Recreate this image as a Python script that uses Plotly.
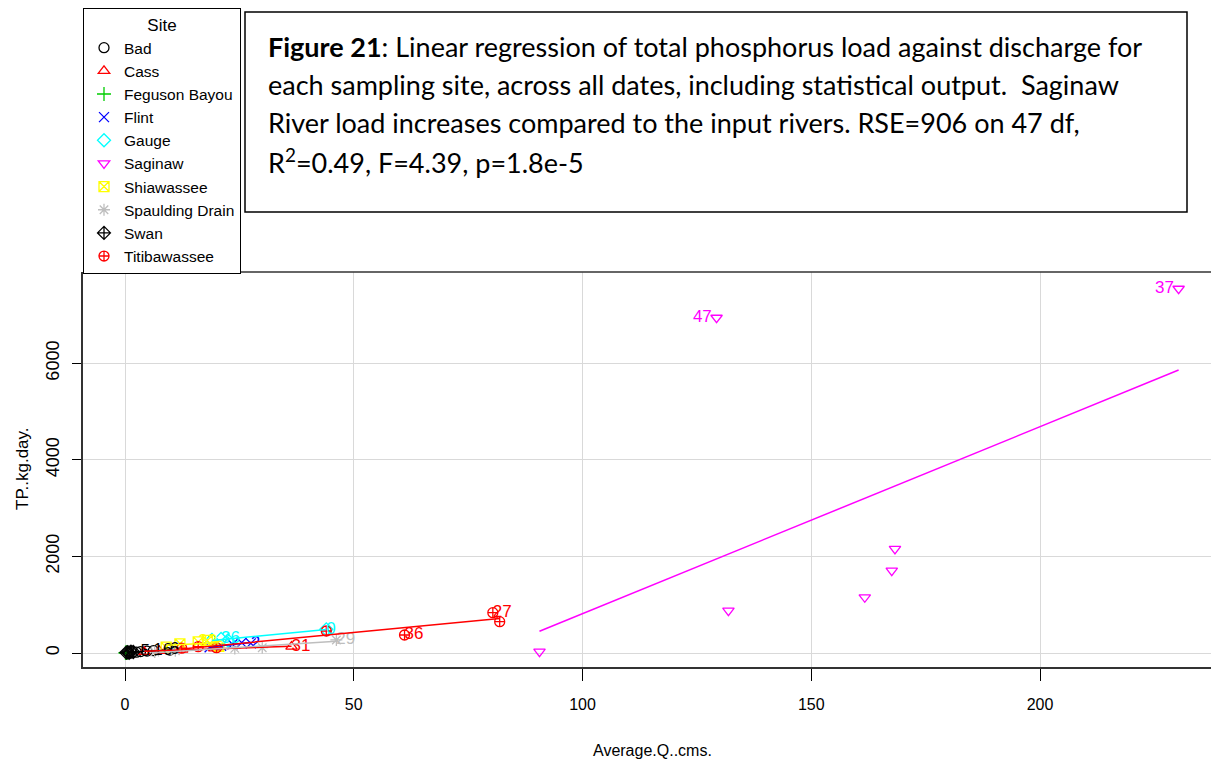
import numpy as np
import plotly.graph_objects as go

# ---------------- data ----------------
sites = ["Bad", "Cass", "Feguson Bayou", "Flint", "Gauge", "Saginaw",
         "Shiawassee", "Spaulding Drain", "Swan", "Titibawassee"]

bad_q = [2.5, 3.4, 4.8, 6.2, 9.8]
bad_tp = [18, 30, 40, 48, 60]
bad_lab = ["", "5", "", "16", "6"]

cass_q = [4.2, 7.5, 12.5, 19.5, 36.4]
cass_tp = [25, 45, 70, 95, 131]
cass_lab = ["", "", "", "", "31"]

feg_q = [0.1, 0.15, 0.25, 0.35, 0.5]
feg_tp = [3, 6, 4, 10, 8]
feg_lab = ["", "", "", "", ""]

flint_q = [18.5, 21.0, 23.5, 25.5, 27.5]
flint_tp = [120, 150, 180, 215, 200]
flint_lab = ["", "", "", "", "2"]

gauge_q = [19.0, 21.0, 22.5, 44.0]
gauge_tp = [270, 290, 260, 490]
gauge_lab = ["", "36", "", "0"]

sag_q = [90.6, 131.9, 161.7, 167.6, 168.3, 129.3, 230.3]
sag_tp = [27, 877, 1154, 1706, 2155, 6943, 7544]
sag_lab = ["", "", "", "", "", "47", "37"]

shia_q = [9.0, 12.0, 16.0, 18.0, 20.5]
shia_tp = [120, 190, 230, 260, 140]
shia_lab = ["", "", "32", "", ""]

spau_q = [6.5, 11.0, 24.0, 30.0, 46.2]
spau_tp = [20, 45, 95, 110, 270]
spau_lab = ["", "", "", "", "29"]

swan_q = [0.3, 0.6, 0.9, 1.3, 1.8]
swan_tp = [8, 15, 5, 25, 20]
swan_lab = ["", "", "", "", ""]

titi_q = [12.4, 16.0, 20.0, 44.0, 61.1, 80.4, 81.9]
titi_tp = [100, 130, 110, 456, 373, 835, 649]
titi_lab = ["", "", "", "", "36", "27", ""]

site_q = [bad_q, cass_q, feg_q, flint_q, gauge_q, sag_q, shia_q, spau_q, swan_q, titi_q]
site_tp = [bad_tp, cass_tp, feg_tp, flint_tp, gauge_tp, sag_tp, shia_tp, spau_tp, swan_tp, titi_tp]
site_lab = [bad_lab, cass_lab, feg_lab, flint_lab, gauge_lab, sag_lab, shia_lab, spau_lab, swan_lab, titi_lab]

x_ticks = [0, 50, 100, 150, 200]
y_ticks = [0, 2000, 4000, 6000]

caption_lines = [
    "<b>Figure 21</b>: Linear regression of total phosphorus load against discharge for",
    "each sampling site, across all dates, including statistical output.  Saginaw",
    "River load increases compared to the input rivers. RSE=906 on 47 df,",
    "R<sup>2</sup>=0.49, F=4.39, p=1.8e-5",
]

# ---------------- styles ----------------
colors = ["#000000", "#FF0000", "#00CD00", "#0000FF", "#00FFFF", "#FF00FF",
          "#FFFF00", "#BEBEBE", "#000000", "#FF0000"]
symbols = ["circle-open", "triangle-up-open", "cross-thin-open", "x-thin-open",
           "diamond-open", "triangle-down-open", "square-x-open", "asterisk-open",
           "diamond-cross-open", "circle-cross-open"]
label_left = {"Saginaw"}

W, H = 1211, 765
L, R, T, B = 83, 1211, 272, 667


def px(x):
    return (x - L) / (R - L)


def py(y):
    return (B - y) / (B - T)


FONT = "Liberation Sans, Arial, sans-serif"

fig = go.Figure()

# points
for s, q, tp, c, sym in zip(sites, site_q, site_tp, colors, symbols):
    fig.add_trace(go.Scatter(
        x=q, y=tp, mode="markers", name=s,
        marker=dict(symbol=sym, size=10, color=c, line=dict(color=c, width=1.3)),
    ))

# point labels
for s, q, tp, lab, c in zip(sites, site_q, site_tp, site_lab, colors):
    left = s in label_left
    fig.add_trace(go.Scatter(
        x=q, y=tp, mode="text", text=lab, showlegend=False,
        textposition="middle left" if left else "middle right",
        texttemplate="%{text}\u00a0" if left else "%{text}",
        textfont=dict(family=FONT, size=17, color=c), hoverinfo="skip",
    ))

# per-site regression lines
for s, q, tp, c in zip(sites, site_q, site_tp, colors):
    qa = np.array(q, dtype=float)
    ta = np.array(tp, dtype=float)
    b1, b0 = np.polyfit(qa, ta, 1)
    xs = np.array([qa.min(), qa.max()])
    fig.add_trace(go.Scatter(
        x=xs, y=b0 + b1 * xs, mode="lines", showlegend=False,
        line=dict(color=c, width=1.5), hoverinfo="skip",
    ))

# caption box and text
shapes = [
    dict(type="rect", xref="paper", yref="paper",
         x0=px(245), x1=px(1187), y0=py(212), y1=py(12),
         line=dict(color="black", width=1.5), fillcolor="white", layer="above"),
    dict(type="line", xref="paper", yref="paper", x0=0, x1=1, y0=1, y1=1,
         line=dict(color="#333333", width=1.5)),
]
annotations = []
for i, line in enumerate(caption_lines):
    annotations.append(dict(
        text=line, xref="paper", yref="paper", x=px(266), y=py(46 + 38.3 * i),
        xanchor="left", yanchor="middle", showarrow=False,
        font=dict(family="Lato, Open Sans, sans-serif", size=27, color="black"),
    ))
annotations.append(dict(
    text="Average.Q..cms.", xref="paper", yref="paper", x=px(652), y=py(750),
    xanchor="center", yanchor="middle", showarrow=False,
    font=dict(family=FONT, size=16, color="black"),
))
annotations.append(dict(
    text="TP..kg.day.", xref="paper", yref="paper", x=px(22), y=py(469),
    xanchor="center", yanchor="middle", showarrow=False, textangle=-90,
    font=dict(family=FONT, size=17, color="black"),
))

fig.update_layout(
    width=W, height=H,
    margin=dict(l=L, r=W - R, t=T, b=H - B, pad=0),
    paper_bgcolor="white", plot_bgcolor="white",
    font=dict(family=FONT, size=17, color="black"),
    shapes=shapes, annotations=annotations,
    legend=dict(
        x=0, y=py(8), xanchor="left", yanchor="top",
        bordercolor="black", borderwidth=1, bgcolor="white",
        font=dict(family=FONT, size=15.5, color="black"),
        title=dict(text="Site", side="top center", font=dict(family=FONT, size=17)),
        itemwidth=30, tracegroupgap=0,
    ),
    xaxis=dict(
        range=[(L - 125) / 4.575, (R - 125) / 4.575],
        tickmode="array", tickvals=x_ticks, ticktext=[str(v) for v in x_ticks],
        ticks="outside", ticklen=12, tickcolor="black", tickwidth=1,
        showline=True, linecolor="#333333", linewidth=1.5,
        showgrid=True, gridcolor="#D9D9D9", gridwidth=1, zeroline=False,
        ticklabelstandoff=10,
        tickfont=dict(family=FONT, size=16),
    ),
    yaxis=dict(
        range=[(653 - B) / 0.048283, (653 - T) / 0.048283],
        tickmode="array", tickvals=y_ticks, ticktext=[str(v) for v in y_ticks],
        ticks="outside", ticklen=9, tickcolor="black", tickwidth=1,
        showline=True, linecolor="#333333", linewidth=1.5,
        showgrid=True, gridcolor="#D9D9D9", gridwidth=1, zeroline=False,
        tickangle=-90, ticklabelstandoff=6,
        tickfont=dict(family=FONT, size=18),
    ),
)

fig.write_html("out.html")
